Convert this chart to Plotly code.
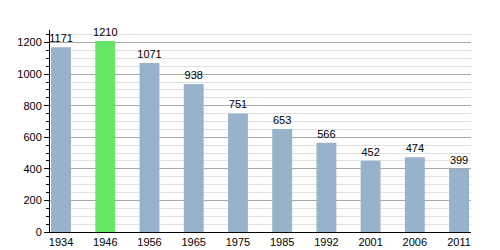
import plotly.graph_objects as go

years = ["1934", "1946", "1956", "1965", "1975", "1985", "1992", "2001", "2006", "2011"]
population = [1171, 1210, 1071, 938, 751, 653, 566, 452, 474, 399]
colors = ["#99b2cc", "#66e466", "#99b2cc", "#99b2cc", "#99b2cc", "#99b2cc", "#99b2cc", "#99b2cc", "#99b2cc", "#99b2cc"]

fig = go.Figure(go.Bar(
    x=list(range(len(years))), y=population,
    marker=dict(color=colors, line=dict(width=0)),
    width=0.45,
    text=[str(v) for v in population], textposition="outside",
    textfont=dict(family="Liberation Sans, Arial", size=11, color="#000"),
    cliponaxis=False,
))
fig.update_layout(
    width=500, height=250,
    margin=dict(l=50, r=29, t=30, b=18),
    paper_bgcolor="white", plot_bgcolor="white",
    showlegend=False,
    uniformtext=dict(minsize=11, mode="show"),
    font=dict(family="Liberation Sans, Arial", size=11, color="#000"),
    xaxis=dict(
        range=[-0.25, 9.27], tickmode="array",
        tickvals=list(range(len(years))), ticktext=years,
        showgrid=False, showline=True, linecolor="#000", linewidth=1,
        ticks="", zeroline=False, automargin=False,
    ),
    yaxis=dict(
        range=[0, 1280], dtick=200, tick0=0,
        showgrid=True, gridcolor="#a8a8a8", gridwidth=1,
        showline=True, linecolor="#000", linewidth=1,
        ticks="outside", ticklen=5, tickcolor="#000",
        zeroline=False, automargin=False,
        minor=dict(dtick=50, showgrid=True, gridcolor="#e0e0e0",
                   ticks="outside", ticklen=3, tickcolor="#000"),
    ),
)
fig.write_html("out.html")
